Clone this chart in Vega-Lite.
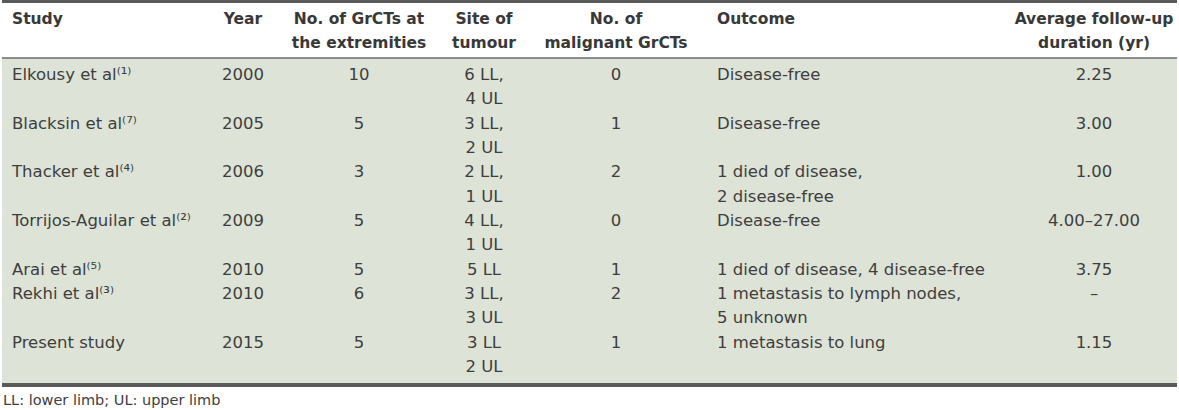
{
  "$schema": "https://vega.github.io/schema/vega-lite/v6.json",
  "width": 1179,
  "height": 410,
  "padding": 0,
  "autosize": {"type": "fit", "contains": "padding"},
  "background": "#ffffff",
  "config": {"view": {"stroke": null}, "text": {"font": "DejaVu Sans", "baseline": "middle"}},
  "datasets": {
    "header": [
      {"col": 0, "line": 0, "text": "Study"},
      {"col": 1, "line": 0, "text": "Year"},
      {"col": 2, "line": 0, "text": "No. of GrCTs at"},
      {"col": 2, "line": 1, "text": "the extremities"},
      {"col": 3, "line": 0, "text": "Site of"},
      {"col": 3, "line": 1, "text": "tumour"},
      {"col": 4, "line": 0, "text": "No. of"},
      {"col": 4, "line": 1, "text": "malignant GrCTs"},
      {"col": 5, "line": 0, "text": "Outcome"},
      {"col": 6, "line": 0, "text": "Average follow-up"},
      {"col": 6, "line": 1, "text": "duration (yr)"}
    ],
    "body": [
      {"col": 0, "line": 2, "text": "Elkousy et al⁽¹⁾"},
      {"col": 1, "line": 2, "text": "2000"},
      {"col": 2, "line": 2, "text": "10"},
      {"col": 3, "line": 2, "text": "6 LL,"},
      {"col": 3, "line": 3, "text": "4 UL"},
      {"col": 4, "line": 2, "text": "0"},
      {"col": 5, "line": 2, "text": "Disease-free"},
      {"col": 6, "line": 2, "text": "2.25"},

      {"col": 0, "line": 4, "text": "Blacksin et al⁽⁷⁾"},
      {"col": 1, "line": 4, "text": "2005"},
      {"col": 2, "line": 4, "text": "5"},
      {"col": 3, "line": 4, "text": "3 LL,"},
      {"col": 3, "line": 5, "text": "2 UL"},
      {"col": 4, "line": 4, "text": "1"},
      {"col": 5, "line": 4, "text": "Disease-free"},
      {"col": 6, "line": 4, "text": "3.00"},

      {"col": 0, "line": 6, "text": "Thacker et al⁽⁴⁾"},
      {"col": 1, "line": 6, "text": "2006"},
      {"col": 2, "line": 6, "text": "3"},
      {"col": 3, "line": 6, "text": "2 LL,"},
      {"col": 3, "line": 7, "text": "1 UL"},
      {"col": 4, "line": 6, "text": "2"},
      {"col": 5, "line": 6, "text": "1 died of disease,"},
      {"col": 5, "line": 7, "text": "2 disease-free"},
      {"col": 6, "line": 6, "text": "1.00"},

      {"col": 0, "line": 8, "text": "Torrijos-Aguilar et al⁽²⁾"},
      {"col": 1, "line": 8, "text": "2009"},
      {"col": 2, "line": 8, "text": "5"},
      {"col": 3, "line": 8, "text": "4 LL,"},
      {"col": 3, "line": 9, "text": "1 UL"},
      {"col": 4, "line": 8, "text": "0"},
      {"col": 5, "line": 8, "text": "Disease-free"},
      {"col": 6, "line": 8, "text": "4.00–27.00"},

      {"col": 0, "line": 10, "text": "Arai et al⁽⁵⁾"},
      {"col": 1, "line": 10, "text": "2010"},
      {"col": 2, "line": 10, "text": "5"},
      {"col": 3, "line": 10, "text": "5 LL"},
      {"col": 4, "line": 10, "text": "1"},
      {"col": 5, "line": 10, "text": "1 died of disease, 4 disease-free"},
      {"col": 6, "line": 10, "text": "3.75"},

      {"col": 0, "line": 11, "text": "Rekhi et al⁽³⁾"},
      {"col": 1, "line": 11, "text": "2010"},
      {"col": 2, "line": 11, "text": "6"},
      {"col": 3, "line": 11, "text": "3 LL,"},
      {"col": 3, "line": 12, "text": "3 UL"},
      {"col": 4, "line": 11, "text": "2"},
      {"col": 5, "line": 11, "text": "1 metastasis to lymph nodes,"},
      {"col": 5, "line": 12, "text": "5 unknown"},
      {"col": 6, "line": 11, "text": "–"},

      {"col": 0, "line": 13, "text": "Present study"},
      {"col": 1, "line": 13, "text": "2015"},
      {"col": 2, "line": 13, "text": "5"},
      {"col": 3, "line": 13, "text": "3 LL"},
      {"col": 3, "line": 14, "text": "2 UL"},
      {"col": 4, "line": 13, "text": "1"},
      {"col": 5, "line": 13, "text": "1 metastasis to lung"},
      {"col": 6, "line": 13, "text": "1.15"}
    ],
    "footnote": [
      {"col": -1, "line": 15, "text": "LL: lower limb; UL: upper limb"}
    ],
    "band": [{"from": 1.5, "to": 14.75}],
    "rules": [
      {"edge": "top", "line": -1},
      {"edge": "header", "line": 1.5},
      {"edge": "bottom", "line": 14.75}
    ]
  },
  "layer": [
    {
      "data": {"name": "band"},
      "mark": {"type": "rect", "color": "#dde3d6"},
      "encoding": {
        "y": {"field": "from", "type": "quantitative", "axis": null,
              "scale": {"domain": [-1, 0, 1, 1.5, 2, 14, 14.75, 15], "range": [1.5, 19, 43, 58, 75, 367, 385, 401], "nice": false, "zero": false}},
        "y2": {"field": "to"}
      }
    },
    {
      "data": {"name": "rules"},
      "transform": [{"filter": "datum.edge === 'top'"}],
      "mark": {"type": "rule", "color": "#5a5a5a", "strokeWidth": 3},
      "encoding": {
        "y": {"field": "line", "type": "quantitative", "axis": null,
              "scale": {"domain": [-1, 0, 1, 1.5, 2, 14, 14.75, 15], "range": [1.5, 19, 43, 58, 75, 367, 385, 401], "nice": false, "zero": false}}
      }
    },
    {
      "data": {"name": "rules"},
      "transform": [{"filter": "datum.edge === 'header'"}],
      "mark": {"type": "rule", "color": "#6a6a6a", "strokeWidth": 1.5},
      "encoding": {
        "y": {"field": "line", "type": "quantitative", "axis": null,
              "scale": {"domain": [-1, 0, 1, 1.5, 2, 14, 14.75, 15], "range": [1.5, 19, 43, 58, 75, 367, 385, 401], "nice": false, "zero": false}}
      }
    },
    {
      "data": {"name": "rules"},
      "transform": [{"filter": "datum.edge === 'bottom'"}],
      "mark": {"type": "rule", "color": "#5a5a5a", "strokeWidth": 4},
      "encoding": {
        "y": {"field": "line", "type": "quantitative", "axis": null,
              "scale": {"domain": [-1, 0, 1, 1.5, 2, 14, 14.75, 15], "range": [1.5, 19, 43, 58, 75, 367, 385, 401], "nice": false, "zero": false}}
      }
    },
    {
      "data": {"name": "header"},
      "transform": [{"filter": "datum.col === 0 || datum.col === 5"}],
      "mark": {"type": "text", "align": "left", "fontWeight": "bold", "fontSize": 15.5, "color": "#383838"},
      "encoding": {
        "x": {"field": "col", "type": "quantitative", "axis": null,
              "scale": {"domain": [-1, 0, 1, 2, 3, 4, 5, 6], "range": [1, 10, 241, 357, 482, 614, 715, 1092], "nice": false, "zero": false}},
        "y": {"field": "line", "type": "quantitative", "axis": null,
              "scale": {"domain": [-1, 0, 1, 1.5, 2, 14, 14.75, 15], "range": [1.5, 19, 43, 58, 75, 367, 385, 401], "nice": false, "zero": false}},
        "text": {"field": "text"}
      }
    },
    {
      "data": {"name": "header"},
      "transform": [{"filter": "datum.col !== 0 && datum.col !== 5"}],
      "mark": {"type": "text", "align": "center", "fontWeight": "bold", "fontSize": 15.5, "color": "#383838"},
      "encoding": {
        "x": {"field": "col", "type": "quantitative", "axis": null,
              "scale": {"domain": [-1, 0, 1, 2, 3, 4, 5, 6], "range": [1, 10, 241, 357, 482, 614, 715, 1092], "nice": false, "zero": false}},
        "y": {"field": "line", "type": "quantitative", "axis": null,
              "scale": {"domain": [-1, 0, 1, 1.5, 2, 14, 14.75, 15], "range": [1.5, 19, 43, 58, 75, 367, 385, 401], "nice": false, "zero": false}},
        "text": {"field": "text"}
      }
    },
    {
      "data": {"name": "body"},
      "transform": [{"filter": "datum.col === 0 || datum.col === 5"}],
      "mark": {"type": "text", "align": "left", "fontSize": 16.5, "color": "#3e3e3e"},
      "encoding": {
        "x": {"field": "col", "type": "quantitative", "axis": null,
              "scale": {"domain": [-1, 0, 1, 2, 3, 4, 5, 6], "range": [1, 10, 241, 357, 482, 614, 715, 1092], "nice": false, "zero": false}},
        "y": {"field": "line", "type": "quantitative", "axis": null,
              "scale": {"domain": [-1, 0, 1, 1.5, 2, 14, 14.75, 15], "range": [1.5, 19, 43, 58, 75, 367, 385, 401], "nice": false, "zero": false}},
        "text": {"field": "text"}
      }
    },
    {
      "data": {"name": "body"},
      "transform": [{"filter": "datum.col !== 0 && datum.col !== 5"}],
      "mark": {"type": "text", "align": "center", "fontSize": 16.5, "color": "#3e3e3e"},
      "encoding": {
        "x": {"field": "col", "type": "quantitative", "axis": null,
              "scale": {"domain": [-1, 0, 1, 2, 3, 4, 5, 6], "range": [1, 10, 241, 357, 482, 614, 715, 1092], "nice": false, "zero": false}},
        "y": {"field": "line", "type": "quantitative", "axis": null,
              "scale": {"domain": [-1, 0, 1, 1.5, 2, 14, 14.75, 15], "range": [1.5, 19, 43, 58, 75, 367, 385, 401], "nice": false, "zero": false}},
        "text": {"field": "text"}
      }
    },
    {
      "data": {"name": "footnote"},
      "mark": {"type": "text", "align": "left", "fontSize": 14.5, "color": "#404040"},
      "encoding": {
        "x": {"field": "col", "type": "quantitative", "axis": null,
              "scale": {"domain": [-1, 0, 1, 2, 3, 4, 5, 6], "range": [1, 10, 241, 357, 482, 614, 715, 1092], "nice": false, "zero": false}},
        "y": {"field": "line", "type": "quantitative", "axis": null,
              "scale": {"domain": [-1, 0, 1, 1.5, 2, 14, 14.75, 15], "range": [1.5, 19, 43, 58, 75, 367, 385, 401], "nice": false, "zero": false}},
        "text": {"field": "text"}
      }
    }
  ]
}
